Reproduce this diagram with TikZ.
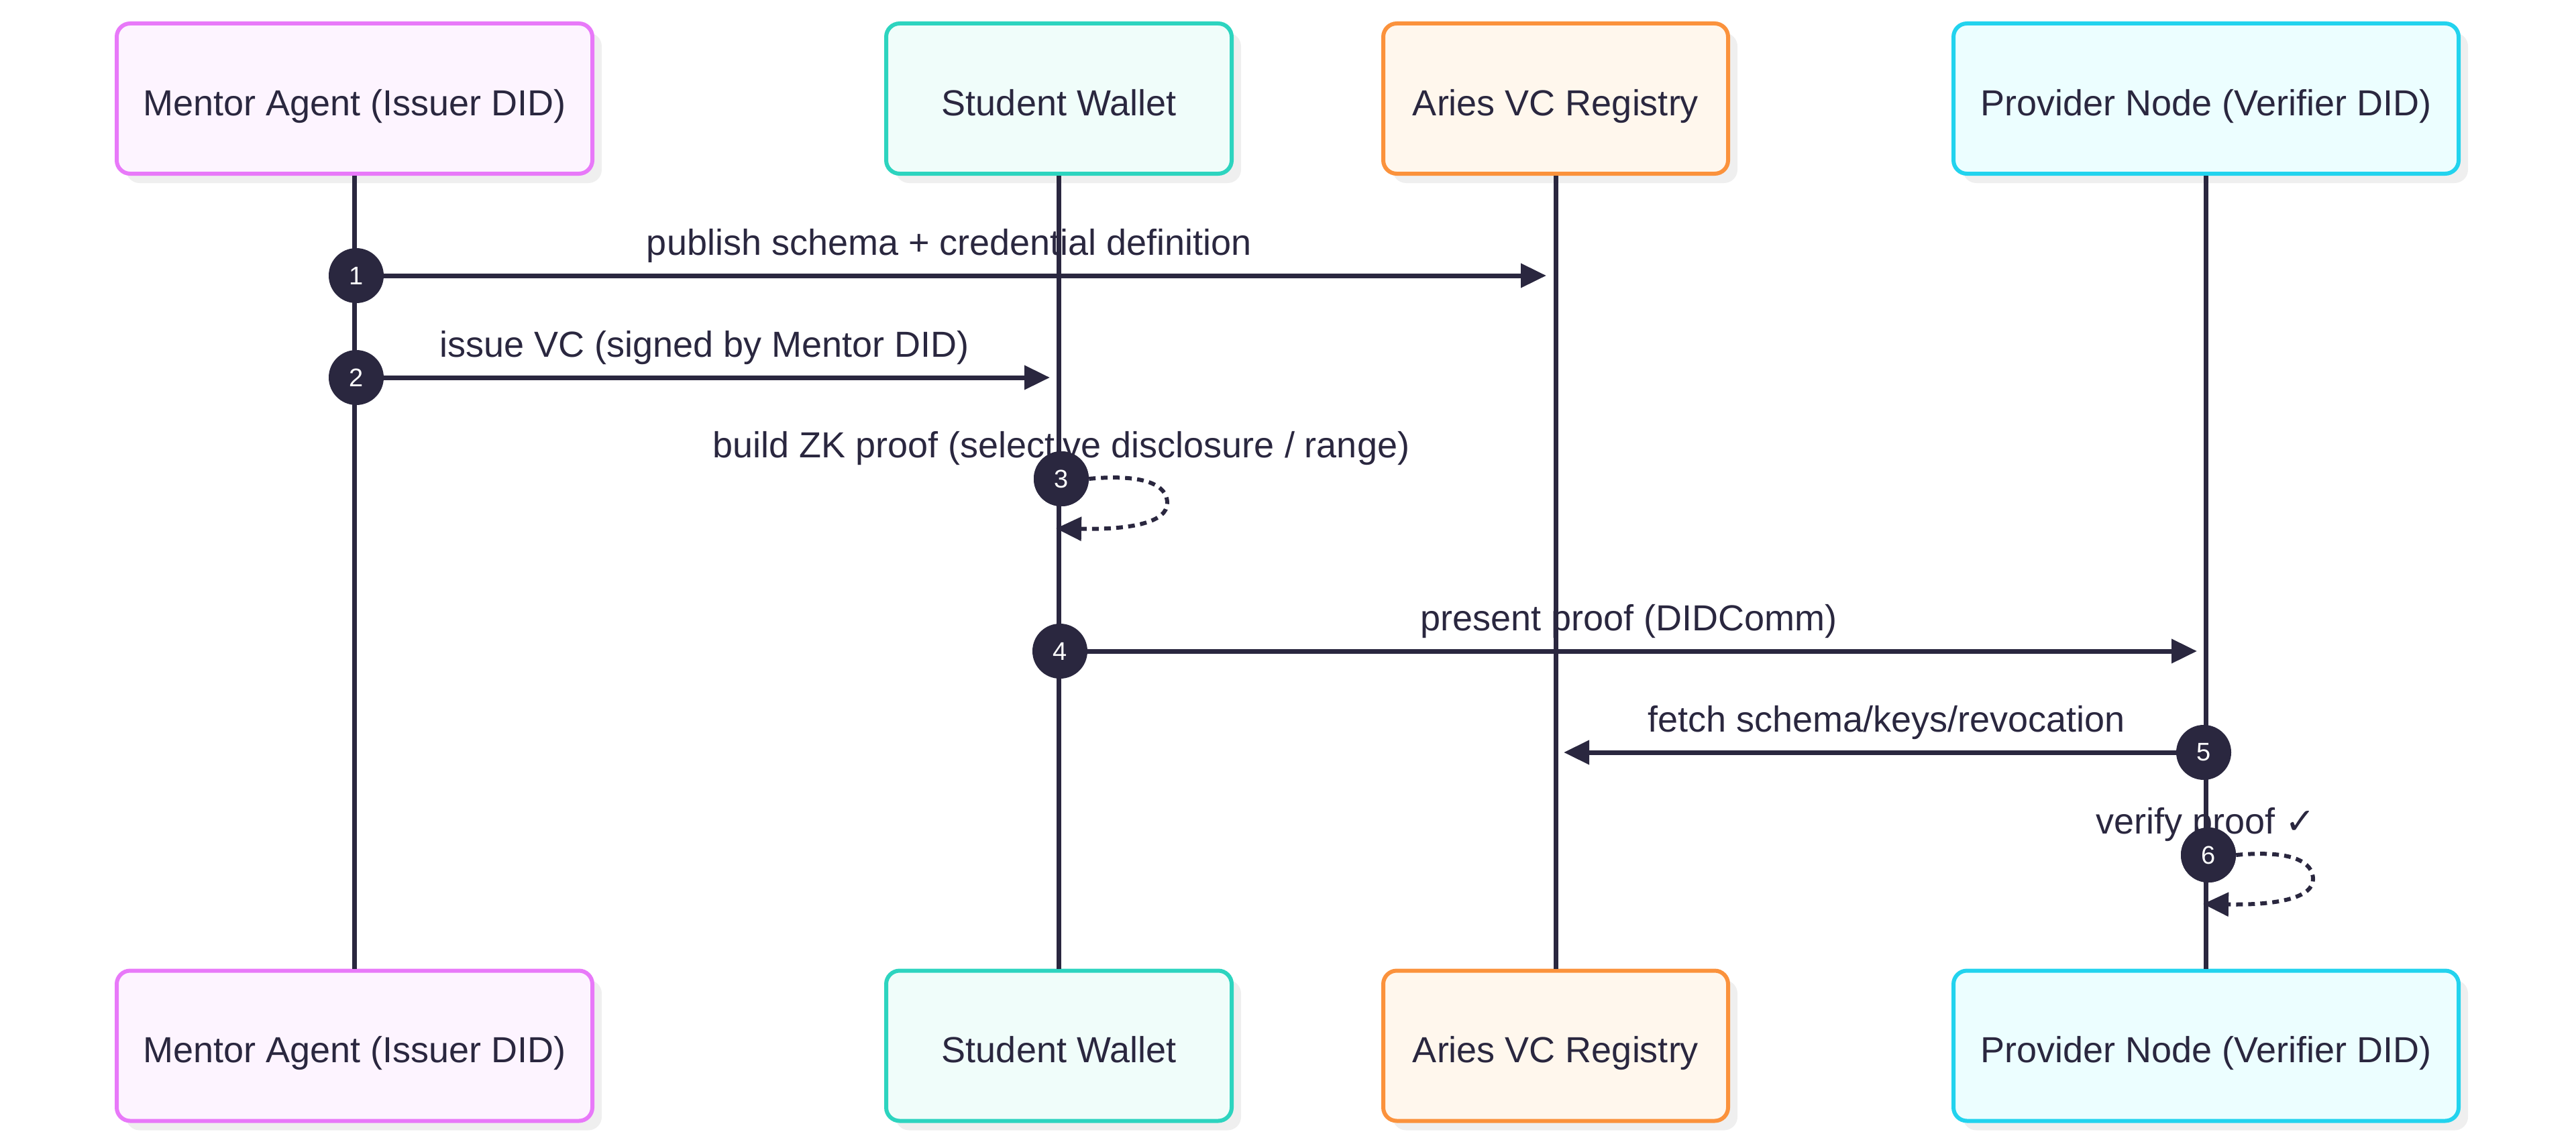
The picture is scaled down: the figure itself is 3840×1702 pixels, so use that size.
\documentclass[tikz,border=0pt]{standalone}
\usepackage{fontspec}
\setmainfont{Liberation Sans}
\newfontfamily\dejavu{DejaVu Sans}
\usetikzlibrary{arrows.meta,shadows}
\definecolor{ink}{HTML}{2A273F}
\definecolor{shadowgray}{HTML}{EFEFEF}
\definecolor{pinkB}{HTML}{E879F9}
\definecolor{pinkF}{HTML}{FDF4FF}
\definecolor{tealB}{HTML}{2DD4BF}
\definecolor{tealF}{HTML}{F0FDFA}
\definecolor{orangeB}{HTML}{FB923C}
\definecolor{orangeF}{HTML}{FFF7ED}
\definecolor{cyanB}{HTML}{22D3EE}
\definecolor{cyanF}{HTML}{ECFEFF}
\tikzset{
  actor/.style={rounded corners=20pt, line width=6pt, minimum height=224pt,
    text=ink, font=\fontsize{54pt}{64pt}\selectfont,
    text height=50pt, text depth=0pt,
    drop shadow={shadow xshift=14pt, shadow yshift=-14pt, fill=shadowgray, opacity=1}},
  lifeline/.style={draw=ink, line width=7pt},
  msg/.style={draw=ink, line width=7pt, -{Triangle[length=38pt,width=35pt]}},
  selfmsg/.style={draw=ink, line width=6pt, dash pattern=on 10pt off 8pt,
    -{Triangle[length=38pt,width=35pt]}},
  num/.style={circle, fill=ink, minimum size=82pt, inner sep=0pt, text=white,
    font=\fontsize{38pt}{44pt}\selectfont},
  lbl/.style={text=ink, font=\fontsize{54pt}{64pt}\selectfont, anchor=base, inner sep=0pt}
}
\begin{document}
\begin{tikzpicture}[x=1pt,y=-1pt]
\useasboundingbox (0,0) rectangle (3840,1702);
% top actors
\node[actor, draw=pinkB, fill=pinkF, minimum width=709pt] (mT) at (528.5,147) {Mentor Agent (Issuer DID)};
\node[actor, draw=tealB, fill=tealF, minimum width=515pt] (sT) at (1578.5,147) {Student Wallet};
\node[actor, draw=orangeB, fill=orangeF, minimum width=514pt] (aT) at (2319,147) {Aries VC Registry};
\node[actor, draw=cyanB, fill=cyanF, minimum width=753pt] (pT) at (3288.5,147) {Provider Node (Verifier DID)};
% bottom actors
\node[actor, draw=pinkB, fill=pinkF, minimum width=709pt] (mB) at (528.5,1559.5) {Mentor Agent (Issuer DID)};
\node[actor, draw=tealB, fill=tealF, minimum width=515pt] (sB) at (1578.5,1559.5) {Student Wallet};
\node[actor, draw=orangeB, fill=orangeF, minimum width=514pt] (aB) at (2319,1559.5) {Aries VC Registry};
\node[actor, draw=cyanB, fill=cyanF, minimum width=753pt] (pB) at (3288.5,1559.5) {Provider Node (Verifier DID)};
% labels
\node[lbl] (l1) at (1415,380) {publish schema + credential definition};
\node[lbl] (l2) at (1050,532) {issue VC (signed by Mentor DID)};
\node[lbl] (l3) at (1582,682) {build ZK proof (selective disclosure / range)};
\node[lbl] (l4) at (2428,940) {present proof (DIDComm)};
\node[lbl] (l5) at (2812,1091) {fetch schema/keys/revocation};
\node[lbl] (l6) at (3288,1243) {verify proof {\dejavu ✓}};
% lifelines
\draw[lifeline] (mT.south) -- (mB.north);
\draw[lifeline] (sT.south) -- (sB.north);
\draw[lifeline] (aT.south) -- (aB.north);
\draw[lifeline] (pT.south) -- (pB.north);
% number circles
\node[num] (c1) at (531,411) {1};
\node[num] (c2) at (531,563) {2};
\node[num] (c3) at (1582,714) {3};
\node[num] (c4) at (1580,971) {4};
\node[num] (c5) at (3285,1122) {5};
\node[num] (c6) at (3292,1275) {6};
% message targets
\coordinate (t1) at (2305,411);
\coordinate (t2) at (1565,563);
\coordinate (t4) at (3275,971);
\coordinate (t5) at (2331,1122);
\coordinate (t3) at (1574,788);
\coordinate (t6) at (3284,1348);
% messages
\draw[msg] (c1) -- (t1);
\draw[msg] (c2) -- (t2);
\draw[msg] (c4) -- (t4);
\draw[msg] (c5) -- (t5);
\draw[selfmsg] (c3.east) .. controls (1710,706) and (1740,725) .. (1740,750) .. controls (1740,778) and (1690,790) .. (t3);
\draw[selfmsg] (c6.east) .. controls (3418,1267) and (3448,1286) .. (3448,1311) .. controls (3448,1338) and (3398,1350) .. (t6);
\node[num] at (c3) {3};
\node[num] at (c6) {6};
\end{tikzpicture}
\end{document}
